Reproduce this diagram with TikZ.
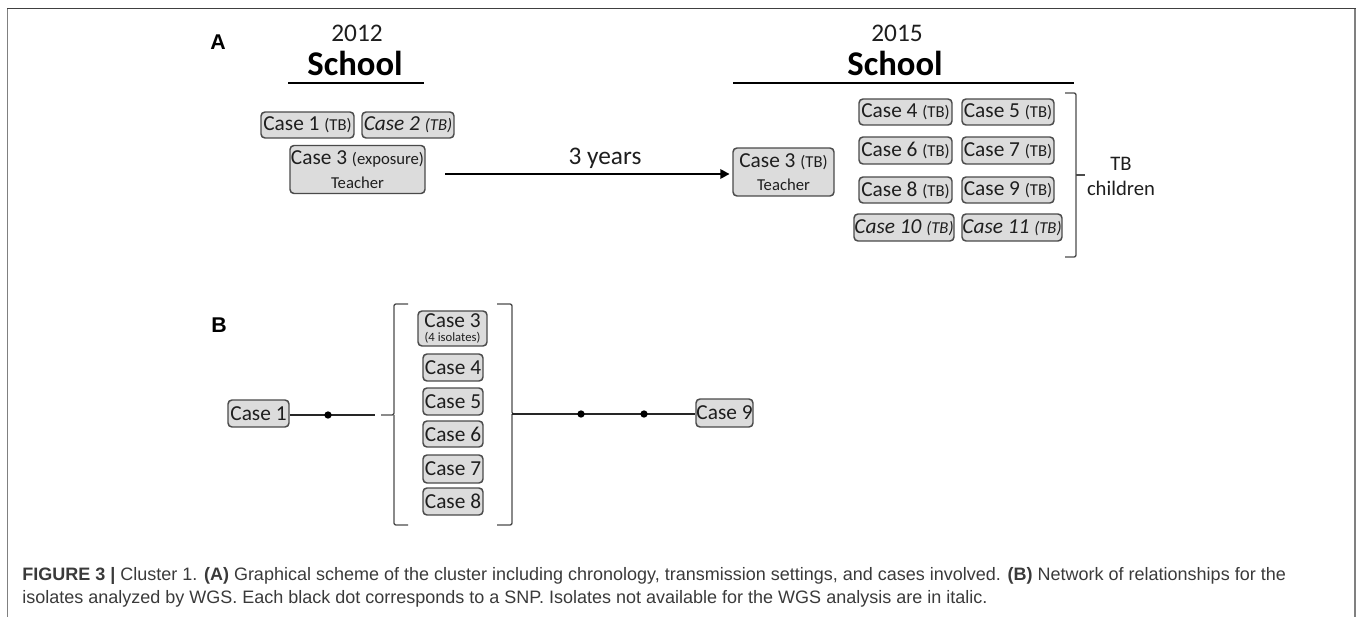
\documentclass[tikz,border=0pt]{standalone}
\usepackage{fontspec}
\setmainfont{Carlito}
\newfontfamily\capfont{Liberation Sans}
\usetikzlibrary{arrows.meta}
\definecolor{boxfill}{HTML}{DCDCDC}
\definecolor{boxline}{HTML}{4A4A4A}
\definecolor{txt}{HTML}{1E1E1E}
\definecolor{captxt}{HTML}{3A3A3A}
\newcommand\smtxt[1]{{\fontsize{12.5}{13}\selectfont #1}}
\begin{document}
\begin{tikzpicture}[x=0.75pt,y=-0.75pt,
  casebox/.style={draw=boxline, fill=boxfill, rounded corners=3pt, line width=1.1pt,
    inner sep=0pt, align=center, text=txt, font=\fontsize{16}{16.5}\selectfont},
  bw/.style={minimum width=#1*0.75pt},
  bh/.style={minimum height=#1*0.75pt},
  snp/.style={circle, fill=black, inner sep=0pt, minimum size=5.5pt},
  brk/.style={draw=black!70, line width=1pt, rounded corners=1.5pt},
  conn/.style={draw=black!85, line width=0.9pt},
  year/.style={anchor=base, text=txt, font=\fontsize{19}{20}\selectfont},
  school/.style={anchor=base, text=black, font=\bfseries\fontsize{26}{28}\selectfont},
  panel/.style={anchor=base, font=\capfont\bfseries\fontsize{16}{17}\selectfont},
  capline/.style={anchor=base west, inner sep=0pt, text=captxt, font=\capfont\fontsize{13.5}{15}\selectfont}
]
\useasboundingbox (0,0) rectangle (1357,617);
% frame
\draw[color=black!50, line width=1.1pt] (7.5,617) -- (7.5,8.5);
\draw[color=black!50, line width=1.1pt] (1355,617) -- (1355,8.5);
\draw[color=black!75, line width=1.3pt] (7,8.5) -- (1355.5,8.5);

% ---------------- Panel A
\node[panel] (lA) at (218,50) {A};
\node[year] (y12) at (357,42) {2012};
\node[school] (s12) at (355,75) {School};
\draw[line width=1.6pt] (288,83) -- (424,83);
\node[year] (y15) at (897,42) {2015};
\node[school] (s15) at (895,75) {School};
\draw[line width=1.6pt] (733,83) -- (1074,83);

\node[casebox, bw=93, bh=26] (c1a) at (307.5,125) {Case 1 \smtxt{(TB)}};
\node[casebox, bw=92, bh=26] (c2a) at (408,125) {\itshape Case 2 \smtxt{(TB)}};
\node[casebox, bw=135, bh=48] (c3a) at (357.5,169.5) {Case 3 \smtxt{(exposure)}\\[1pt]\smtxt{Teacher}};
\node[casebox, bw=101, bh=48] (c3b) at (783.5,172) {Case 3 \smtxt{(TB)}\\[1pt]\smtxt{Teacher}};

\coordinate (arrs) at (445,174);
\draw[line width=1.9pt, -{Triangle[length=7pt,width=7pt]}, shorten >=2pt] (arrs) -- (arrs -| c3b.west);
\node[year, text=txt] (yrs) at (605,164) {3 years};

\node[casebox, bw=93, bh=26] (c4) at (905.5,112) {Case 4 \smtxt{(TB)}};
\node[casebox, bw=92, bh=26] (c5) at (1008,112) {Case 5 \smtxt{(TB)}};
\node[casebox, bw=93, bh=27] (c6) at (905.5,150.5) {Case 6 \smtxt{(TB)}};
\node[casebox, bw=92, bh=27] (c7) at (1008,150.5) {Case 7 \smtxt{(TB)}};
\node[casebox, bw=93, bh=26] (c8) at (905.5,190) {Case 8 \smtxt{(TB)}};
\node[casebox, bw=92, bh=26] (c9) at (1008,190) {Case 9 \smtxt{(TB)}};
\node[casebox, bw=100, bh=27] (c10) at (904,227.5) {\itshape Case 10 \smtxt{(TB)}};
\node[casebox, bw=100, bh=27] (c11) at (1012,227.5) {\itshape Case 11 \smtxt{(TB)}};

\draw[brk] (1065,93) -- (1076,93) -- (1076,257) -- (1065,257);
\draw[brk] (1076,175) -- (1085,175);
\node[anchor=base, text=txt, font=\fontsize{15.5}{16}\selectfont] (tb) at (1121,171) {TB};
\node[anchor=base, text=txt, font=\fontsize{15.5}{16}\selectfont] (ch) at (1121,195) {children};

% ---------------- Panel B
\node[panel] (lB) at (219,332) {B};
\node[casebox, bw=61, bh=27] (c1B) at (258.5,413.5) {Case 1};
\node[casebox, bw=57, bh=28] (c9B) at (724.5,413) {Case 9};
\node[casebox, bw=69, bh=35] (c3B) at (452.5,328.5) {Case 3\\[-5.5pt]{\fontsize{9.5}{10}\selectfont (4 isolates)}};
\node[casebox, bw=60, bh=27] (c4B) at (453,367.5) {Case 4};
\node[casebox, bw=60, bh=27] (c5B) at (453,401.5) {Case 5};
\node[casebox, bw=60, bh=26] (c6B) at (453,434) {Case 6};
\node[casebox, bw=60, bh=28] (c7B) at (453,469) {Case 7};
\node[casebox, bw=60, bh=27] (c8B) at (453,501.5) {Case 8};

% brackets
\draw[brk] (408,304) -- (394,304) -- (394,415) -- (381,415);
\draw[brk] (394,415) -- (394,525) -- (408,525);
\draw[brk] (497,304) -- (512,304) -- (512,414) -- (520,414);
\draw[brk] (512,414) -- (512,525) -- (497,525);

\coordinate (lgap) at (375,415);
\coordinate (rb) at (512,414);
\draw[conn] (c1B.east |- lgap) -- (lgap);
\draw[conn] (rb) -- (rb -| c9B.west);
\node[snp] (d1) at (328,415) {};
\node[snp] (d2) at (581,414) {};
\node[snp] (d3) at (644,414) {};

% ---------------- Caption
\node[capline] (cap1) at (22,580) {\textbf{FIGURE 3 |} Cluster 1. \textbf{(A)} Graphical scheme of the cluster including chronology, transmission settings, and cases involved. \textbf{(B)} Network of relationships for the};
\node[capline] (cap2) at (22,603) {isolates analyzed by WGS. Each black dot corresponds to a SNP. Isolates not available for the WGS analysis are in italic.};
\end{tikzpicture}
\end{document}
